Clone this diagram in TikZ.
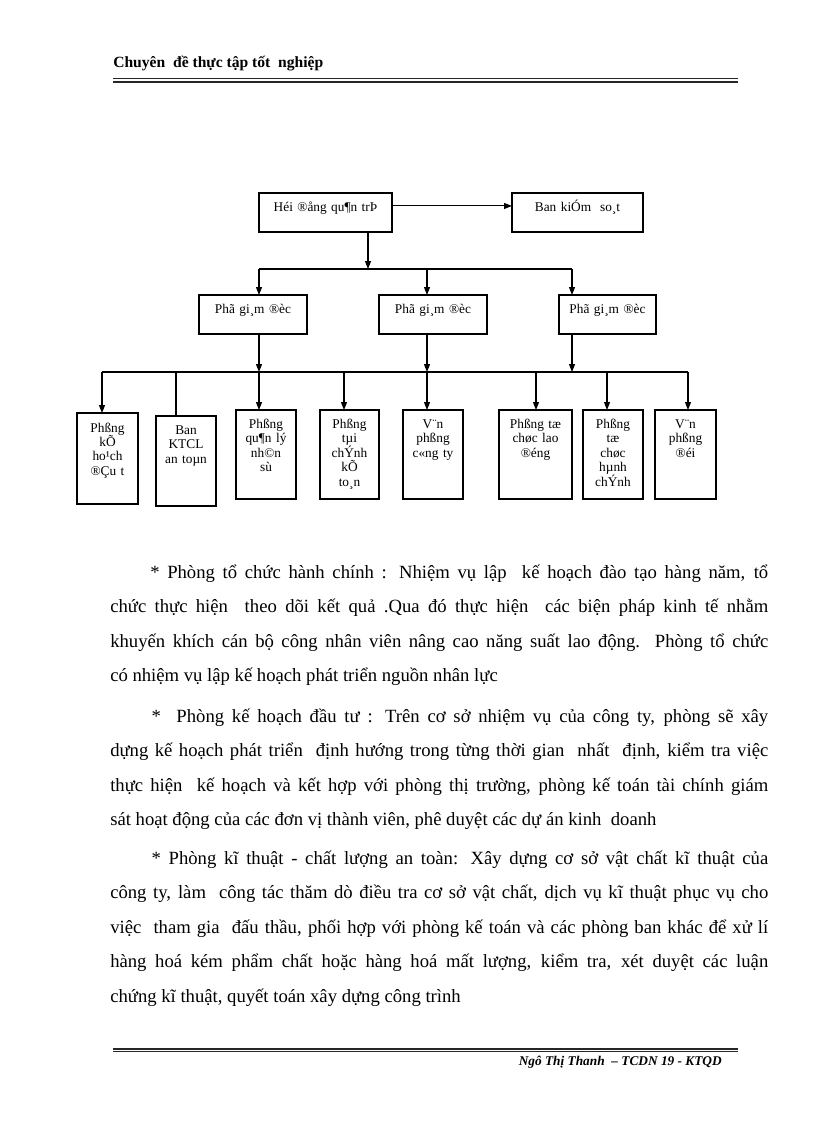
\documentclass[tikz,border=0pt]{standalone}
\usepackage{fontspec}
\setmainfont{Liberation Serif}
\usetikzlibrary{arrows.meta}
\tikzset{
  box/.style={draw, line width=0.8pt, inner sep=0pt, outer sep=0pt},
  boxtext/.style={inner sep=0pt, align=center, font=\fontsize{10}{10.8}\selectfont},
  arr/.style={line width=0.8pt, -{Triangle[length=6pt,width=4.5pt]}},
  ln/.style={line width=0.8pt},
  body/.style={inner sep=0pt, anchor=base west},
}
% name, x1, y1, x2, y2, baseline offset, text
\newcommand{\obox}[7]{%
  \pgfmathsetmacro{\bw}{(#4-#2)*0.75}%
  \pgfmathsetmacro{\bh}{(#5-#3)*0.75}%
  \node[box, minimum width=\bw pt, minimum height=\bh pt] (#1) at ({(#2+#4)/2},{(#3+#5)/2}) {};
  \node[boxtext, text width=\bw pt, anchor=base] (#1-t) at ({(#2+#4)/2},{#3+#6}) {#7};
}
\newcommand{\bodytext}[1]{\parbox[t]{493.5pt}{\fontsize{14}{25.9}\selectfont\spaceskip=0.25em plus 0.6em minus 0.12em #1}}
\begin{document}
\begin{tikzpicture}[x=0.75pt,y=-0.75pt]
\useasboundingbox (0,0) rectangle (816,1123);

% header
\node[anchor=base west, inner sep=0pt, font=\fontsize{11.7}{14}\selectfont\bfseries] (hdr) at (113,68) {Chuyên\ \ đề thực tập tốt\ \ nghiệp};
\draw[line width=0.6pt, black!85] (113,78.8) -- (738,78.8);
\draw[line width=1.5pt, black!85] (113,81.6) -- (738,81.6);

% top level
\obox{hdqt}{259}{193}{392}{232}{19}{Héi ®ång qu¶n trÞ}
\obox{bks}{512}{193}{643}{232}{19}{Ban kiÓm\ \ so¸t}
\draw[arr] ([yshift=4.9pt]hdqt.east) -- ([yshift=4.9pt]bks.west);

% deputy directors
\obox{pgd1}{199}{295}{307}{334}{18}{Phã gi¸m ®èc}
\obox{pgd2}{379}{295}{487}{334}{18}{Phã gi¸m ®èc}
\obox{pgd3}{559}{295}{656}{334}{18}{Phã gi¸m ®èc}

\coordinate (busA) at (368,269);
\coordinate (busAL) at (259,269);
\coordinate (busAM) at (427,269);
\coordinate (busAR) at (572,269);
\draw[arr] (hdqt.south -| busA) -- (busA);
\draw[ln] (busAL) -- (busAR);
\draw[arr] (busAL) -- (busAL |- pgd1.north);
\draw[arr] (busAM) -- (busAM |- pgd2.north);
\draw[arr] (busAR) -- (busAR |- pgd3.north);

% departments
\obox{pkh}{77}{413}{138}{504}{19}{Phßng\\kÕ\\ho¹ch\\®Çu t}
\obox{ktcl}{156}{416}{216}{506}{18.5}{Ban\\KTCL\\an toµn}
\obox{qlns}{236}{410}{296}{499}{18.5}{Phßng\\qu¶n lý\\nh©n\\sù}
\obox{tckt}{320}{410}{379}{499}{18.5}{Phßng\\tµi\\chÝnh\\kÕ\\to¸n}
\obox{vpct}{403}{410}{463}{499}{18.5}{V¨n\\phßng\\c«ng ty}
\obox{tcld}{499}{410}{572}{499}{18.5}{Phßng tæ\\chøc lao\\®éng}
\obox{tchc}{583}{410}{643}{499}{18.5}{Phßng\\tæ\\chøc\\hµnh\\chÝnh}
\obox{vpd}{655}{410}{716}{499}{18.5}{V¨n\\phßng\\®éi}

\coordinate (bL) at (102,372);
\coordinate (bR) at (688,372);
\draw[ln] (bL) -- (bR);
\draw[arr] (pgd1.south -| busAL) -- (busAL |- bL);
\draw[arr] (pgd2.south -| busAM) -- (busAM |- bL);
\draw[arr] (pgd3.south -| busAR) -- (busAR |- bL);

\coordinate (d1) at (102,372);
\coordinate (d2) at (176,372);
\coordinate (d3) at (259,372);
\coordinate (d4) at (344,372);
\coordinate (d5) at (427,372);
\coordinate (d6) at (536,372);
\coordinate (d7) at (607,372);
\coordinate (d8) at (688,372);
\draw[arr] (d1) -- (d1 |- pkh.north);
\draw[ln] (d2) -- (d2 |- ktcl.north);
\draw[arr] (d3) -- (d3 |- qlns.north);
\draw[arr] (d4) -- (d4 |- tckt.north);
\draw[arr] (d5) -- (d5 |- vpct.north);
\draw[arr] (d6) -- (d6 |- tcld.north);
\draw[arr] (d7) -- (d7 |- tchc.north);
\draw[arr] (d8) -- (d8 |- vpd.north);

% body text
\node[body] (p1) at (110,578) {\bodytext{\hspace*{30pt}* Phòng tổ chức hành chính : Nhiệm vụ lập\ \ kế hoạch đào tạo hàng năm, tổ\linebreak
chức thực hiện\ \ theo dõi kết quả .Qua đó thực hiện\ \ các biện pháp kinh tế nhằm\linebreak
khuyến khích cán bộ công nhân viên nâng cao năng suất lao động. Phòng tổ chức\linebreak
có nhiệm vụ lập kế hoạch phát triển nguồn nhân lực}};

\node[body] (p2) at (110,722) {\bodytext{\hspace*{31pt}*\ \ Phòng kế hoạch đầu tư : Trên cơ sở nhiệm vụ của công ty, phòng sẽ xây\linebreak
dựng kế hoạch phát triển\ \ định hướng trong từng thời gian\ \ nhất\ \ định, kiểm tra việc\linebreak
thực hiện\ \ kế hoạch và kết hợp với phòng thị trường, phòng kế toán tài chính giám\linebreak
sát hoạt động của các đơn vị thành viên, phê duyệt các dự án kinh\ \ doanh}};

\node[body] (p3) at (110,864) {\bodytext{\hspace*{31pt}* Phòng kĩ thuật - chất lượng an toàn: Xây dựng cơ sở vật chất kĩ thuật của\linebreak
công ty, làm\ \ công tác thăm dò điều tra cơ sở vật chất, dịch vụ kĩ thuật phục vụ cho\linebreak
việc\ \ tham gia\ \ đấu thầu, phối hợp với phòng kế toán và các phòng ban khác để xử lí\linebreak
hàng hoá kém phẩm chất hoặc hàng hoá mất lượng, kiểm tra, xét duyệt các luận\linebreak
chứng kĩ thuật, quyết toán xây dựng công trình}};

% footer
\draw[line width=1.5pt, black!85] (113,1049) -- (738,1049);
\draw[line width=0.6pt, black!85] (113,1051.6) -- (738,1051.6);
\node[anchor=base east, inner sep=0pt, font=\fontsize{10}{12}\selectfont\bfseries\itshape] (ftr) at (722,1065) {Ngô Thị Thanh\ \ – TCDN 19 - KTQD};
\end{tikzpicture}
\end{document}
